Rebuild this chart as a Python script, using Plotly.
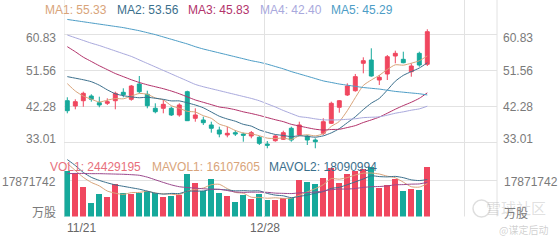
import plotly.graph_objects as go

# ---------------- data ----------------
idx = list(range(46))
open_ = [43.81, 42.45, 43.81, 45.02, 43.30, 43.14, 43.81, 45.97, 44.17, 48.10,
         45.46, 41.86, 41.86, 41.86, 40.14, 46.13, 39.29, 38.85, 37.57, 36.28,
         35.00, 35.59, 35.25, 34.74, 34.40, 32.68, 33.53, 33.89, 36.72, 35.00,
         34.74, 33.71, 35.43, 38.00, 42.12, 45.28, 46.38, 53.43, 54.27, 49.13,
         50.68, 55.30, 54.45, 51.27, 55.99, 53.17]
high_ = [44.69, 44.17, 46.13, 45.46, 44.84, 44.43, 46.13, 47.00, 47.85, 50.16,
         46.38, 43.14, 43.99, 42.27, 43.14, 46.38, 41.86, 39.70, 38.41, 37.13,
         37.13, 36.28, 35.59, 36.02, 34.74, 33.45, 35.00, 36.10, 37.13, 38.41,
         35.00, 34.15, 39.29, 43.56, 43.99, 48.28, 50.68, 54.97, 57.28, 50.42,
         55.56, 56.67, 56.41, 53.43, 56.41, 62.17]
low_ = [40.57, 41.60, 42.27, 43.56, 42.12, 42.71, 41.60, 44.69, 43.81, 45.71,
        41.86, 40.57, 40.57, 39.88, 39.70, 38.59, 38.41, 37.57, 35.59, 34.40,
        34.40, 34.74, 33.27, 34.15, 32.42, 31.58, 33.27, 33.71, 33.27, 34.74,
        32.42, 31.58, 35.00, 37.82, 40.73, 45.02, 46.13, 50.85, 49.98, 47.85,
        49.13, 53.43, 53.43, 49.98, 52.55, 52.73]
close_ = [41.24, 43.56, 45.71, 44.17, 42.71, 43.56, 45.71, 45.35, 47.59, 46.13,
          42.53, 40.98, 42.88, 40.14, 42.71, 38.67, 40.14, 38.16, 36.72, 35.25,
          35.43, 35.25, 34.92, 35.59, 32.86, 32.35, 34.74, 35.59, 33.71, 37.57,
          33.71, 33.27, 38.41, 43.14, 43.81, 47.59, 50.00, 54.10, 50.16, 49.83,
          55.12, 55.99, 53.58, 52.73, 52.99, 61.55]

ma1 = [48.2, 46.3, 45.0, 44.2, 43.48, 43.94, 44.37, 44.30, 44.98, 45.67,
       45.46, 44.52, 44.02, 42.53, 41.85, 41.08, 40.91, 39.96, 39.28, 37.79,
       37.14, 36.16, 35.51, 35.29, 34.81, 34.19, 34.09, 34.23, 33.85, 34.79,
       35.06, 34.77, 35.33, 37.22, 38.47, 41.24, 44.59, 47.73, 49.13, 50.34,
       51.84, 53.04, 52.94, 53.45, 54.08, 55.33]
ma2 = [50.0, 49.6, 49.2, 48.7, 47.8, 46.6, 45.6, 45.1, 44.8, 44.57,
       44.70, 44.44, 44.16, 43.76, 43.76, 43.27, 42.71, 41.99, 40.91, 39.82,
       39.11, 38.54, 37.74, 37.28, 36.30, 35.67, 35.13, 34.87, 34.57, 34.80,
       34.63, 34.43, 34.78, 35.54, 36.63, 38.15, 39.68, 41.53, 43.18, 44.40,
       46.54, 48.82, 50.33, 51.29, 52.21, 53.56]
ma3 = [57.7, 56.4, 55.0, 53.9, 52.8, 51.8, 50.8, 50.0, 49.2, 48.5,
       47.9, 47.4, 46.9, 46.3, 45.6, 44.8, 44.0, 43.4, 42.8, 42.20,
       41.91, 41.49, 40.95, 40.52, 40.03, 39.47, 38.92, 38.43, 37.74, 37.31,
       36.87, 36.48, 36.26, 36.41, 36.46, 36.91, 37.40, 38.20, 38.87, 39.60,
       40.59, 41.62, 42.56, 43.41, 44.42, 45.83]
ma4 = [60.7, 60.0, 59.3, 58.6, 58.0, 57.3, 56.6, 55.9, 55.2, 54.3,
       53.4, 52.5, 51.6, 50.7, 49.8, 48.9, 48.0, 47.4, 46.9, 46.4,
       45.9, 45.4, 44.9, 44.4, 43.8, 43.0, 42.2, 41.3, 40.5, 39.73,
       39.48, 39.14, 38.89, 38.86, 38.90, 39.03, 39.17, 39.46, 39.55, 39.67,
       40.09, 40.59, 40.95, 41.37, 41.71, 42.40]
ma5 = [64.7, 64.4, 64.1, 63.8, 63.5, 63.2, 62.9, 62.6, 62.2, 61.8,
       61.3, 60.8, 60.2, 59.6, 59.0, 58.4, 57.7, 57.1, 56.6, 56.1,
       55.6, 55.1, 54.6, 54.1, 53.7, 53.2, 52.6, 52.0, 51.3, 50.7,
       50.1, 49.5, 48.9, 48.5, 48.1, 47.8, 47.5, 47.2, 47.0, 46.8,
       46.5, 46.2, 46.0, 45.8, 45.6, 45.29]

# volume in millions of shares
vol = [22.1, 21.1, 14.3, 6.6, 10.9, 9.5, 15.8, 11.4, 10.9, 11.4,
       12.4, 11.4, 9.5, 10.0, 10.4, 20.6, 16.3, 12.4, 18.2, 11.4,
       10.0, 7.0, 10.4, 8.5, 10.9, 8.0, 8.0, 9.0, 9.0, 17.7,
       16.7, 15.8, 18.7, 24.0, 16.3, 20.6, 22.1, 23.1, 24.5, 13.8,
       15.3, 18.2, 12.4, 13.3, 12.9, 24.429195]
mavol1 = [26.0, 22.6, 19.2, 16.7, 15.0, 12.48, 11.42, 10.84, 11.7, 11.8,
          12.38, 11.5, 11.12, 10.94, 10.74, 12.38, 13.36, 13.94, 15.58, 15.78,
          13.66, 11.8, 11.4, 9.46, 9.36, 8.96, 9.16, 8.88, 8.98, 10.34,
          12.08, 13.64, 15.58, 18.58, 18.3, 19.08, 20.34, 21.22, 21.32, 20.82,
          19.76, 18.98, 16.84, 14.6, 14.42, 16.11]
mavol2 = [27.9, 25.0, 21.6, 19.2, 17.7, 16.5, 15.5, 14.8, 14.1, 13.4,
          12.43, 11.46, 10.98, 11.32, 11.27, 12.38, 12.43, 12.53, 13.26, 13.26,
          13.02, 12.58, 12.67, 12.52, 12.57, 11.31, 10.48, 10.14, 9.22, 9.85,
          10.52, 11.4, 12.23, 13.78, 14.32, 15.58, 16.99, 18.4, 19.95, 19.56,
          19.42, 19.66, 19.03, 17.96, 17.62, 18.09]
mavol3 = [21.0, 21.1, 21.1, 21.0, 21.0, 20.9, 20.8, 20.7, 20.5, 20.2,
          19.3, 18.0, 16.7, 15.5, 14.6, 14.2, 13.9, 13.6, 13.4, 13.33,
          12.73, 12.02, 11.83, 11.92, 11.92, 11.85, 11.46, 11.34, 11.24, 11.56,
          11.77, 11.99, 12.45, 13.15, 13.45, 13.45, 13.74, 14.27, 14.59, 14.71,
          14.97, 15.53, 15.63, 15.87, 15.97, 16.79]

price_ticks = [60.83, 51.56, 42.28, 33.01]
price_tick_text = ["60.83", "51.56", "42.28", "33.01"]
vol_tick = 17.871742
vol_tick_text = "17871742"
vol_unit = "万股"
date_labels = ["11/21", "12/28"]
ma_labels = ["MA1: 55.33", "MA2: 53.56", "MA3: 45.83", "MA4: 42.40", "MA5: 45.29"]
vol_labels = ["VOL1: 24429195", "MAVOL1: 16107605", "MAVOL2: 18090994"]

# ---------------- style ----------------
W, H = 560, 240
UP = "#f0475f"
DOWN = "#16a99b"
MA_COLORS = ["#d9a47a", "#3b6f8c", "#b3336b", "#a9a9dd", "#4d9dc6"]
VOL_COLORS = ["#e8707c", "#d9a47a", "#3b6f8c"]
MAVOL3_COLOR = "#9b4a8e"
GRID = "#e2e2e2"
TXT = "#7a7a7a"
FONT = "Liberation Sans, Arial, sans-serif"
CJK = "Noto Sans CJK SC"

def py(px):
    return 1 - px / H

def px_x(px):
    return px / W

fig = go.Figure()

fig.add_trace(go.Candlestick(
    x=idx, open=open_, high=high_, low=low_, close=close_,
    increasing=dict(line=dict(color=UP, width=1), fillcolor=UP),
    decreasing=dict(line=dict(color=DOWN, width=1), fillcolor=DOWN),
    whiskerwidth=0, xaxis="x", yaxis="y", showlegend=False, hoverinfo="skip"))

for arr, col in zip([ma1, ma2, ma3, ma4, ma5], MA_COLORS):
    fig.add_trace(go.Scatter(x=idx, y=arr, mode="lines",
                             line=dict(color=col, width=1, shape="spline", smoothing=0.6),
                             xaxis="x", yaxis="y", showlegend=False, hoverinfo="skip"))

bar_colors = [UP if c >= o else DOWN for o, c in zip(open_, close_)]
fig.add_trace(go.Bar(x=idx, y=vol, marker=dict(color=bar_colors, line=dict(width=0)),
                     width=0.75, xaxis="x2", yaxis="y2", showlegend=False, hoverinfo="skip"))

for arr, col in zip([mavol1, mavol2, mavol3], [VOL_COLORS[1], VOL_COLORS[2], MAVOL3_COLOR]):
    fig.add_trace(go.Scatter(x=idx, y=arr, mode="lines",
                             line=dict(color=col, width=1, shape="spline", smoothing=0.6),
                             xaxis="x2", yaxis="y2", showlegend=False, hoverinfo="skip"))

# axes
px_per_unit = 3.89
y_top_val = 60.83 + 34.5 / px_per_unit
y_bot_val = 60.83 - (150 - 34.5) / px_per_unit
vol_px_per_m = 2.04
x0_px, step = 67.3, 8.0
xr = [(64 - x0_px) / step, (497 - x0_px) / step]

fig.update_layout(
    width=W, height=H, margin=dict(l=0, r=0, t=0, b=0),
    paper_bgcolor="white", plot_bgcolor="white",
    font=dict(family=FONT, size=12, color=TXT),
    showlegend=False,
    xaxis=dict(domain=[px_x(64), px_x(497)], range=xr, showgrid=False, zeroline=False,
               showticklabels=False, rangeslider=dict(visible=False), fixedrange=True),
    xaxis2=dict(domain=[px_x(64), px_x(497)], range=xr, showgrid=False, zeroline=False,
                showticklabels=False, anchor="y2"),
    yaxis=dict(domain=[py(150), py(0)], range=[y_bot_val, y_top_val], tickvals=price_ticks,
               showticklabels=False, gridcolor=GRID, gridwidth=1, zeroline=False),
    yaxis2=dict(domain=[py(216.5), py(155)], range=[0, (216.5 - 155) / vol_px_per_m],
                tickvals=[0, vol_tick], showticklabels=False, gridcolor=GRID, gridwidth=1,
                zeroline=False, anchor="x2"),
    bargap=0,
)

# vertical grid lines
shapes = []
for xv in [xr[0], (264.5 - x0_px) / step, (464.5 - x0_px) / step]:
    shapes.append(dict(type="line", xref="x", yref="paper", x0=xv, x1=xv,
                       y0=py(216.5), y1=1, line=dict(color=GRID, width=1)))
shapes.append(dict(type="line", xref="paper", yref="paper", x0=px_x(497), x1=px_x(497),
                   y0=py(216.5), y1=1, line=dict(color=GRID, width=1)))
# watermark logo circle
shapes.append(dict(type="circle", xref="paper", yref="paper",
                   x0=px_x(473), x1=px_x(490), y0=py(217), y1=py(200),
                   line=dict(color="rgba(160,160,160,0.35)", width=1.5)))
fig.update_layout(shapes=shapes)

ann = []
def label(text, x, y, anchor, color=TXT, size=12, family=FONT):
    ann.append(dict(text=text, x=px_x(x), y=py(y), xref="paper", yref="paper",
                    xanchor=anchor, yanchor="middle", showarrow=False,
                    font=dict(family=family, size=size, color=color)))

for t, yy in zip(price_tick_text, [38, 71, 107, 139]):
    label(t, 58, yy, "right")
    label(t, 501, yy, "left")
label(vol_tick_text, 58, 181.5, "right")
label(vol_tick_text, 502, 182, "left")
label(vol_unit, 58, 211, "right", family=CJK)
label(vol_unit, 502, 212, "left", family=CJK)

for t, xx, col in zip(ma_labels, [43, 115, 186, 258, 329], MA_COLORS):
    label(t, xx, 10, "left", color=col)
for t, xx, col in zip(vol_labels, [48, 150, 267], VOL_COLORS):
    label(t, xx, 167, "left", color=col)

label(date_labels[0], 65, 228, "left", color="#666")
label(date_labels[1], 265, 228, "center", color="#666")

# watermark
label("雪球社区", 548, 207, "right", color="rgba(150,150,150,0.30)", size=15, family=CJK)
label("@谋定后动", 550, 229, "right", color="rgba(150,150,150,0.45)", size=10, family=CJK)
fig.update_layout(annotations=ann)

fig.write_html("out.html")
